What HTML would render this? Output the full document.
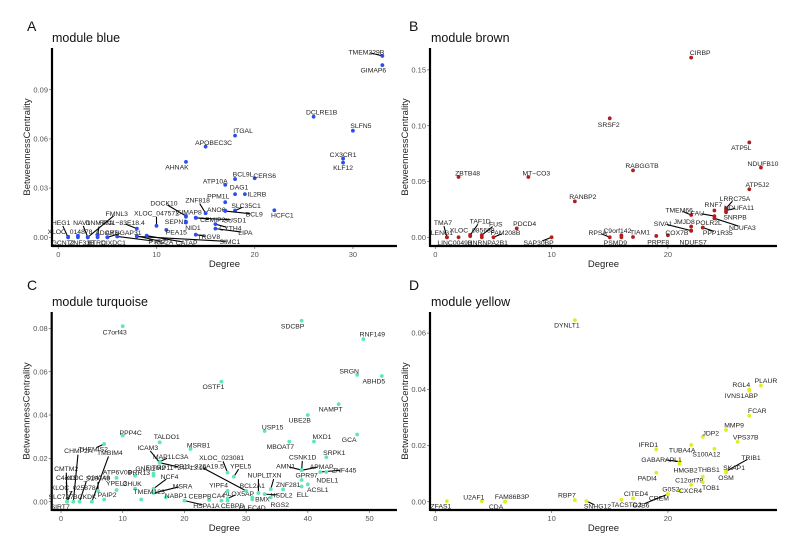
<!DOCTYPE html>
<html><head><meta charset="utf-8"><style>
html,body{margin:0;padding:0;background:#fff;}
svg{display:block;font-family:"Liberation Sans",sans-serif;}
</style></head><body>
<svg id="c" width="794" height="560"></svg>
<script>
// ---- Panel A: module blue ----
const aNames=["TMEM229B","GIMAP6","DCLRE1B","SLFN5","CX3CR1","KLF12","ITGAL","APOBEC3C","AHNAK","BCL9L","CERS6","ATP10A","DAG1","IL2RB","PPM1L","SLC35C1","ANO6","BCL9","HCFC1","ZNF818","DOCK10","GIMAP8","SEPN1","NID1","XLOC_047572","CEMIP2","SUSD1","CYTH4","LIPA","RP11−83E18.4","PEA15","TRGV8","SIMC1","CATAP","KIF2A","PTRZ","HEG1","XLOC_014878","NAV1","DNMT3A","FMNL3","ADCY7","ARHGAP31","GCNT2","ZNF33B","BTRC","DIXDC1"];
const aDegree=[33,33,26,30,29,29,18,15,13,18,20,17,18,19,17,18,17,17,22,15,13,13,13,13,10,14,14,16,16,8,11,14,8,9,8,6,1,2,3,4,3,4,5,1,2,3,5];
const aBC=[0.1106,0.105,0.0735,0.065,0.048,0.0455,0.062,0.0553,0.046,0.0355,0.036,0.032,0.0263,0.0263,0.0214,0.0163,0.0163,0.016,0.0165,0.0147,0.013,0.0125,0.0095,0.009,0.007,0.012,0.0118,0.008,0.0053,0.0053,0.0045,0.0016,0.0005,0.001,0.0008,0.0005,0,0.001,0,0.001,0,0,0,0,0,0,0];
const aLdx=[-16,-9,8,8,0,0,8,8,-9,8,10,-10,4,12,-7,11,-9,29,8,-8,-22,3,-10,7,0,17,39,15,30,-15,10,13,93,40,27,40,-7,-8,-6,2,29,9,16,-5,4,9,6];
const aLdy=[-4,5,-5,-5,-4,5,-5,-4,5,-5,-3,-4,-7,0,-6,-5,-1,3,5,-13,-13,-5,0,5,-13,2,2,4,4,-6,2,2,5,7,6,5,-15,-4,-15,-13,-24,-5,-5,5,5,5,5];
// ---- Panel B: module brown ----
const bNames=["CIRBP","SRSF2","ATP5L","NDUFB10","ATP5J2","ZBTB48","MT−CO3","RABGGTB","RANBP2","LRRC75A","NDUFA11","RNF7","SNRPB","TMEM66","FAU","NDUFA3","POLR2L","PPP1R35","JMJD8","SIVA1","COX7B","NDUFS7","PRPF8","TIAM1","C9orf142","PSMD9","RPSA","SAP30BP","PDCD4","FAM208B","FUS","TAF1D","XLOC_085688","HNRNPA2B1","LENG1","TMA7","LINC00493"];
const bDegree=[22,15,27,28,27,2,8,17,12,25,25,24,25,22,24,24,23,23,22,22,20,22,19,17,16,16,15,10,7,5,4,3,3,4,1,1,2];
const bBC=[0.161,0.1066,0.085,0.0624,0.043,0.054,0.054,0.060,0.0322,0.026,0.024,0.024,0.0225,0.020,0.019,0.017,0.0087,0.0087,0.0096,0.006,0.0018,0.0058,0.0012,0.0003,0.0018,0,0,0,0.008,0,0.002,0.002,0.001,0,0,0,0];
const bLdx=[9,-1,-8,2,8,9,8,9,8,9,13,-1,9,-12,-17,28,6,15,-7,-28,9,2,2,7,-4,-6,-12,-13,8,12,14,10,2,6,-5,-4,-4];
const bLdy=[-5,6,5,-4,-5,-4,-4,-5,-5,-10,-3,-6,5,-5,-3,9,-5,5,-5,-7,-3,11,6,-5,-5,5,-5,5,-5,-5,-11,-14,-6,5,-5,-15,5];
// ---- Panel C: module turquoise ----
const cNames=["C7orf43","SDCBP","RNF149","SRGN","ABHD5","OSTF1","NAMPT","UBE2B","USP15","PPP4C","TALDO1","MXD1","GCA","MBOAT7","THEMIS2","MSRB1","SRPK1","CSNK1D","AMN1","APMAP","ZNF445","NDEL1","GPR97","ACSL1","ELL","ZNF281","TXN","NUPL1","HSDL2","RGS2","BMX","BCL2A1","ALOX5AP","YIPF4","XLOC_023081","YPEL5","RP11−326A19.5","CEBPB","CA4","CEBPD","CLEC4D","HSPA1A","NABP1","MSRA","NCF4","MAP1LC3A","RP11−34P13.15","IFITM2","GNAI2","ICAM3","PRR13","TMBIM4","ATP6V0B","S100A9","CHMP2A","CMTM2","C4orf3","XLOC_024748","XLOC_025878","SLC7A7","SIRT7","YPEL3","CHUK","BCKDK","PAIP2","TMEM123"];
const cDegree=[10,39,49,48,52,26,45,40,33,10,16,41,48,37,7,21,43,39,39,39,42,43,39,40,39,36,34,32,33,34,32,31,27,27,27,28,30,24,26,27,31,20,17,15,15,16,16,15,15,16,12,5,9,6,2,1,1,3,1,1,1,9,12,5,7,13];
const cBC=[0.081,0.0835,0.075,0.0585,0.058,0.0554,0.045,0.040,0.0326,0.0305,0.0274,0.0277,0.031,0.0277,0.0266,0.0243,0.0205,0.0146,0.0146,0.0145,0.0137,0.0137,0.010,0.008,0.007,0.0057,0.0058,0.004,0.0035,0.002,0.004,0.002,0.0015,0.005,0.0134,0.0115,0.005,0.0008,0.0005,0.0005,0.001,0.0005,0.002,0.004,0.006,0.0185,0.018,0.012,0.013,0.018,0.012,0,0.011,0.005,0,0,0,0,0,0,0,0.0054,0.006,0,0.001,0.001];
const cLdx=[-8,-9,9,-8,-8,-8,-8,-8,8,8,7,8,-8,-9,-11,8,8,1,-16,20,24,1,5,10,1,5,4,0,17,9,4,0,11,-9,-6,7,-47,-9,-3,5,0,22,10,29,16,11,22,1,-8,-12,4,18,1,0,5,-1,-1,8,6,-6,-7,0,-3,-7,3,8];
const cLdy=[6,5,-5,-4,5,5,5,5,-4,-3,-6,-5,5,5,5,-4,-5,-13,-4,-4,-2,8,-5,5,8,-5,-14,-18,1,7,6,-12,-5,-6,-15,-11,-25,-4,-5,5,8,5,-2,-7,-12,-5,5,-8,-5,-15,-3,-49,-6,-13,-51,-33,-24,-24,-14,-5,5,-7,-5,-5,-5,-8];
// ---- Panel D: module yellow ----
const dNames=["DYNLT1","PLAUR","RGL4","IVNS1ABP","FCAR","MMP9","JDP2","VPS37B","TUBA4A","IFRD1","S100A12","GABARAPL1","HMGB2","TRIB1","SKAP1","OSM","THBS1","C12orf79","TOB1","PADI4","CXCR4","G0S2","CREM","GJB6","CITED4","TACSTD2","SNHG12","RBP7","FAM86B3P","CDA","U2AF1","ZFAS1"];
const dDegree=[12,28,27,27,27,25,23,26,22,19,24,21,21,25,25,25,23,22,23,19,21,20,20,20,17,16,13,12,6,6,4,1];
const dBC=[0.0646,0.0413,0.0399,0.0395,0.0306,0.0255,0.0231,0.0213,0.0202,0.0186,0.0188,0.0143,0.0135,0.0108,0.0108,0.0104,0.0089,0.006,0.0069,0.0103,0.0039,0.0027,0.0027,0.0027,0.0012,0.0007,0.0002,0.0006,0,0,0.0002,0.0002];
const dLdx=[-8,5,-8,-8,8,8,8,8,-9,-8,-8,-18,6,25,8,0,6,-2,8,-9,11,3,-9,-27,3,5,11,-8,7,-9,-8,-6];
const dLdy=[5,-5,-5,5,-5,-5,-4,-5,5,-5,5,-2,6,-14,-4,5,-7,-5,5,5,0,-5,4,11,-5,5,5,-5,-5,5,-4,5];

const panels=[
 {key:"a",letter:"A",title:"module blue",color:"#2b4ef0",names:aNames,deg:aDegree,bc:aBC,ldx:aLdx,ldy:aLdy,
  x0:58.3,xs:9.82,y0:237.3,ys:1640,ax:52,bot:246,right:397,top:48,lx:27,ly:31,tx:52,ty:42,
  xt:[0,10,20,30],yt:[0,0.03,0.06,0.09],ytl:["0.00","0.03","0.06","0.09"]},
 {key:"b",letter:"B",title:"module brown",color:"#b11e1e",names:bNames,deg:bDegree,bc:bBC,ldx:bLdx,ldy:bLdy,
  x0:435.3,xs:11.63,y0:237.3,ys:1116,ax:430,bot:246,right:777,top:48,lx:409,ly:31,tx:431,ty:42,
  xt:[0,10,20],yt:[0,0.05,0.10,0.15],ytl:["0.00","0.05","0.10","0.15"]},
 {key:"c",letter:"C",title:"module turquoise",color:"#5ee8b2",names:cNames,deg:cDegree,bc:cBC,ldx:cLdx,ldy:cLdy,
  x0:61,xs:6.17,y0:501.7,ys:2167,ax:51.7,bot:510,right:397,top:312,lx:27,ly:290,tx:52,ty:306,
  xt:[0,10,20,30,40,50],yt:[0,0.02,0.04,0.06,0.08],ytl:["0.00","0.02","0.04","0.06","0.08"]},
 {key:"d",letter:"D",title:"module yellow",color:"#e2ee1c",names:dNames,deg:dDegree,bc:dBC,ldx:dLdx,ldy:dLdy,
  x0:435.3,xs:11.63,y0:501.7,ys:2810,ax:430,bot:510,right:777,top:312,lx:409,ly:290,tx:431,ty:306,
  xt:[0,10,20],yt:[0,0.02,0.04,0.06],ytl:["0.00","0.02","0.04","0.06"]}
];
const NS="http://www.w3.org/2000/svg";
const svg=document.getElementById("c");
function mk(tag,attrs,parent,txt){const e=document.createElementNS(NS,tag);for(const k in attrs)e.setAttribute(k,attrs[k]);if(txt!==undefined)e.textContent=txt;parent.appendChild(e);return e;}
panels.forEach(p=>{
  const g=mk("g",{},svg);
  
  
  const X=d=>p.x0+d*p.xs, Y=v=>p.y0-v*p.ys;
  const L=mk("text",{x:p.lx,y:p.ly,"font-size":14,fill:"#111"},g,p.letter);
  
  
  const T=mk("text",{x:p.tx,y:p.ty,"font-size":12.5,fill:"#111"},g,p.title);
  
  
  // ticks
  p.xt.forEach(t=>{
    mk("line",{x1:X(t),x2:X(t),y1:p.bot,y2:p.bot+3,stroke:"#666","stroke-width":0.7},g);
    const e=mk("text",{x:X(t),y:p.bot+11,"font-size":7.5,fill:"#555","text-anchor":"middle"},g,String(t));
    
    
  });
  p.yt.forEach((t,i)=>{
    mk("line",{x1:p.ax-3,x2:p.ax,y1:Y(t),y2:Y(t),stroke:"#666","stroke-width":0.7},g);
    const e=mk("text",{x:p.ax-4,y:Y(t)+2.6,"font-size":7.5,fill:"#555","text-anchor":"end"},g,p.ytl[i]);
    
    
  });
  const xa=mk("line",{x1:p.ax,x2:p.right,y1:p.bot,y2:p.bot,stroke:"#000","stroke-width":2.2},g);
  
  
  const ya=mk("line",{x1:p.ax,x2:p.ax,y1:p.top,y2:p.bot+1,stroke:"#000","stroke-width":2.2},g);
  
  
  const xt=mk("text",{x:(p.ax+p.right)/2,y:p.bot+21,"font-size":9.5,fill:"#222","text-anchor":"middle"},g,"Degree");
  
  
  const yx=p.ax-22, yy=(p.top+p.bot)/2;
  const yt=mk("text",{x:yx,y:yy,"font-size":9.5,fill:"#222","text-anchor":"middle",transform:`rotate(-90 ${yx} ${yy})`},g,"BetweennessCentrality");
  
  
  // points and labels
  p.names.forEach((n,i)=>{
    const px=X(p.deg[i]), py=Y(p.bc[i]);
    const lx=px+p.ldx[i], ly=py+p.ldy[i];
    const dist=Math.hypot(p.ldx[i],p.ldy[i]);
    if(dist>12){
      const f=(dist-4)/dist;
      const s=mk("line",{x1:px,y1:py,x2:px+p.ldx[i]*f,y2:py+p.ldy[i]*f,stroke:"#000","stroke-width":1.1},g);
      
      
    }
    const c=mk("circle",{cx:px,cy:py,r:1.9,fill:p.color},g);
    
    
    const t=mk("text",{x:lx,y:ly+2.5,"font-size":6.8,fill:"#222","text-anchor":"middle"},g,n);
    
    
  });
});
</script>
</body></html>
